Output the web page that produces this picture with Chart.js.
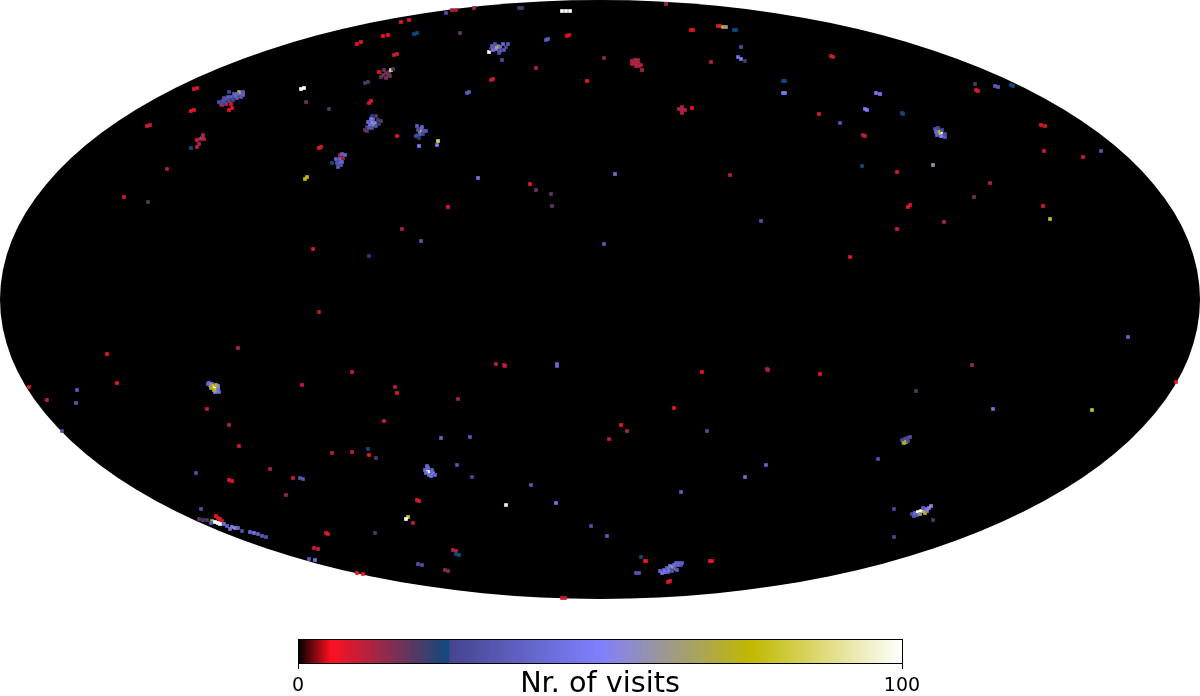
<!DOCTYPE html>
<html>
<head>
<meta charset="utf-8">
<title>Nr. of visits</title>
<script src="https://cdn.jsdelivr.net/npm/chart.js@4"></script>
<style>
    body { margin: 0; background: #fff; width: 1200px; height: 696px; overflow: hidden; position: relative; }
    canvas { position: absolute; left: 0; }
    #map { top: 0; }
    #bar { top: 620px; }
</style>
</head>
<body>
<canvas id="map" width="1200" height="600"></canvas>
<canvas id="bar" width="1200" height="82"></canvas>
<script>
// values: position on the projected sky and number of visits
var skyX = [
    383,388,357,361,394,397,194,197,191,194,229,232,147,150,167,124,148,301,304,306,329,319,321,365,368,369,371,397,305,307,
    191,197,199,197,200,202,203,204,
    219,223,226,229,231,233,235,237,240,243,239,226,231,222,229,
    379,383,386,389,391,388,393,
    365,367,370,372,375,373,378,381,376,372,369,374,
    332,340,342,345,340,343,339,342,338,
    562,566,570,666,519,522,474,452,456,446,401,409,414,417,460,567,569,546,548,
    489,491,494,496,498,500,503,504,508,497,
    502,604,536,491,493,587,467,469,
    632,635,638,632,635,638,641,636,639,642,
    679,682,682,685,682,692,691,693,718,720,723,726,734,736,741,711,738,741,745,783,785,783,785,
    615,730,761,478,530,536,551,552,448,402,
    417,421,424,420,426,418,421,416,419,437,438,
    831,833,876,880,865,867,819,840,863,865,902,903,975,976,978,995,998,1011,1013,1041,1045,1044,1083,1101,
    935,938,940,941,939,943,945,942,937,
    933,862,897,990,974,908,910,1043,1050,944,897,
    313,369,421,604,850,319,1128,
    107,117,238,77,76,29,47,62,
    209,212,213,215,217,210,216,218,215,
    207,229,239,352,302,395,397,384,332,352,368,369,376,270,293,300,303,229,232,196,286,
    326,328,314,318,375,309,315,357,363,
    201,199,203,207,216,218,220,222,212,215,218,220,211,224,227,232,235,238,230,242,250,254,258,262,266,
    496,504,505,557,557,702,767,768,458,674,621,627,609,707,441,470,457,472,
    425,428,430,433,428,431,435,
    531,556,506,681,745,766,417,419,408,406,413,591,607,453,456,456,459,418,422,445,448,641,645,646,710,712,636,639,668,670,
    660,664,667,665,670,673,677,678,681,676,674,
    562,565,820,972,916,993,1092,1176,
    903,905,907,910,906,878,894,894,933,
    912,915,918,921,924,926,929,931,917,923,
    224,228,234,237,221,225,241,243,
    492,495,500,493,499,506,
    368,371,376,367,379,372,
    418,422,419,423,
    662,668,669,675,679,682,672,
    208,211,214,218,219,
    426,429,432,427,
    914,920,925,927,
    936,941,945,938,
    902,904,908,
    336,341,337,
    381,384,390,386
];
var skyY = [
    36,35,44,42,55,54,89,88,111,110,110,108,126,125,169,197,202,89,88,102,109,148,147,83,82,103,101,136,179,177,
    148,147,144,140,139,138,135,139,
    102,101,99,101,97,100,96,98,94,95,92,104,104,105,92,
    72,75,73,72,70,76,69,
    130,127,125,122,123,119,120,121,116,116,128,125,
    163,155,154,155,159,158,163,162,167,
    11,11,11,4,8,8,8,10,10,13,22,20,34,33,33,36,35,40,39,
    52,49,46,49,46,51,44,50,44,47,
    60,58,68,80,79,81,93,92,
    61,60,60,64,63,63,65,66,66,70,
    109,107,110,110,113,108,30,30,26,26,27,27,30,30,47,62,57,59,61,81,81,93,93,
    174,175,221,178,184,190,194,206,207,229,
    126,129,131,132,131,135,134,136,146,145,141,
    56,57,93,94,109,110,114,123,135,136,113,114,84,90,91,86,87,85,86,125,126,151,157,151,
    129,131,133,132,132,136,137,130,135,
    165,166,172,183,197,207,205,206,219,222,229,
    249,256,241,244,257,312,337,
    354,383,348,390,403,387,400,431,
    383,384,386,388,391,385,385,389,392,
    409,425,446,372,385,387,393,421,453,452,449,455,458,469,478,478,479,480,481,473,495,
    533,534,548,549,533,559,560,573,574,
    509,519,520,520,516,518,519,521,521,522,523,524,523,524,526,527,528,528,529,531,532,533,534,536,537,
    364,365,366,364,366,372,369,370,399,408,425,431,439,431,438,437,465,477,
    470,468,472,473,472,476,475,
    485,503,505,492,477,465,500,501,517,519,523,526,536,550,551,554,555,564,565,570,571,557,561,561,561,561,573,573,582,581,
    571,570,568,572,566,567,570,565,565,563,565,
    598,598,374,365,391,409,410,382,
    442,439,438,437,442,459,509,537,520,
    514,513,512,511,511,509,508,506,515,508,
    98,97,94,94,104,103,97,92,
    46,44,47,50,53,47,
    122,119,126,131,124,128,
    130,127,138,134,
    573,572,570,569,563,563,571,
    384,388,390,386,392,
    473,475,470,466,
    516,514,513,511,
    132,136,134,128,
    440,443,441,
    159,165,163,
    77,70,76,78
];
var visits = [
    6,6,7,7,10,10,8,8,7,7,7,7,9,9,11,8,19,100,100,18,19,8,8,20,20,8,8,8,75,75,
    25,12,12,8,12,30,12,10,
    30,32,30,27,35,26,40,35,40,38,70,8,8,8,26,
    6,18,17,16,90,18,20,
    18,22,45,50,48,40,20,20,19,25,33,60,
    25,10,35,40,40,14,38,40,35,
    100,100,100,14,20,20,14,12,12,30,7,7,25,25,18,5,5,35,35,
    100,22,32,48,42,35,38,34,33,70,
    28,15,11,10,10,6,35,35,
    12,12,12,12,12,12,12,12,12,12,
    12,12,12,12,12,7,5,5,9,9,70,60,25,25,28,11,45,48,20,25,25,47,47,
    42,12,30,45,7,18,18,18,7,12,
    35,40,35,70,33,26,38,27,47,48,85,
    10,10,47,47,48,48,8,33,11,11,25,25,20,9,9,35,35,25,25,8,8,9,9,33,
    30,38,100,100,75,45,35,28,38,
    58,25,9,11,17,8,8,9,78,12,9,
    8,25,33,33,7,11,40,
    7,7,12,35,33,8,10,30,
    45,45,78,100,78,60,72,45,50,
    10,12,9,10,10,12,8,11,12,10,25,7,19,12,9,33,33,7,7,30,14,
    8,8,10,10,20,35,45,8,6,
    30,20,20,20,6,10,7,10,72,100,100,100,35,42,38,50,55,40,45,30,40,45,38,35,33,
    11,10,10,40,40,7,12,12,13,7,7,12,10,28,38,33,33,26,
    42,42,43,45,100,44,40,
    33,45,95,35,42,38,6,8,78,100,11,30,35,11,11,25,25,30,30,16,16,25,7,7,7,7,33,33,7,7,
    40,42,38,45,48,65,35,40,33,38,42,
    10,10,7,14,20,44,78,7,
    30,28,26,30,72,30,27,27,20,
    28,42,100,100,76,42,50,56,35,35,
    30,34,36,40,28,26,33,36,
    36,30,44,44,30,28,
    40,46,30,19,22,30,
    30,38,25,26,
    45,40,44,35,38,35,32,
    40,70,75,60,42,
    42,42,38,40,
    35,60,75,50,
    40,50,30,28,
    26,70,28,
    38,30,32,
    18,18,18,16
];

// colour bar
var barLabel = 'Nr. of visits';
var barTicks = [0, 100];
var stopValues = [0, 5.5, 25, 25.1, 50, 75, 100];
var stopColors = ['#000000', '#ff1020', '#0f4a80', '#45458f', '#8080ff', '#c0b800', '#ffffff'];

function hexToRgb(h) {
    return [parseInt(h.substr(1, 2), 16), parseInt(h.substr(3, 2), 16), parseInt(h.substr(5, 2), 16)];
}

function visitColor(v) {
    for (var i = 1; i < stopValues.length; i++) {
        if (v <= stopValues[i]) {
            var t = (v - stopValues[i - 1]) / (stopValues[i] - stopValues[i - 1]);
            var a = hexToRgb(stopColors[i - 1]);
            var b = hexToRgb(stopColors[i]);
            return 'rgb(' + a.map(function (c, k) { return Math.round(c + (b[k] - c) * t); }).join(',') + ')';
        }
    }
    return stopColors[stopColors.length - 1];
}

// black sky ellipse, sized from the map scales
var skyFrame = {
    id: 'skyFrame',
    beforeDatasetsDraw: function (chart) {
        var sx = chart.scales.x, sy = chart.scales.y, ctx = chart.ctx;
        ctx.save();
        ctx.fillStyle = '#000';
        ctx.beginPath();
        ctx.ellipse(sx.getPixelForValue(600), sy.getPixelForValue(299.5),
            sx.getPixelForValue(1200) - sx.getPixelForValue(600),
            sy.getPixelForValue(599) - sy.getPixelForValue(299.5), 0, 0, Math.PI * 2);
        ctx.fill();
        ctx.restore();
    }
};

new Chart(document.getElementById('map'), {
    type: 'scatter',
    data: {
        datasets: [{
            data: skyX.map(function (x, i) { return { x: x, y: skyY[i] }; }),
            pointStyle: 'rect',
            pointRadius: 2.6,
            borderWidth: 0,
            backgroundColor: function (c) { return visitColor(visits[c.dataIndex]); }
        }]
    },
    options: {
        responsive: false,
        animation: false,
        layout: { padding: 0, autoPadding: false },
        plugins: { legend: { display: false }, tooltip: { enabled: false } },
        scales: {
            x: { type: 'linear', display: false, min: 0, max: 1200 },
            y: { type: 'linear', display: false, min: 0, max: 600, reverse: true }
        }
    },
    plugins: [skyFrame]
});

new Chart(document.getElementById('bar'), {
    type: 'bar',
    data: {
        labels: [barLabel],
        datasets: [{
            data: [[barTicks[0], barTicks[1]]],
            barPercentage: 1,
            categoryPercentage: 1,
            borderWidth: 0,
            backgroundColor: function (c) {
                var area = c.chart.chartArea;
                if (!area) return '#000';
                var g = c.chart.ctx.createLinearGradient(area.left, 0, area.right, 0);
                stopValues.forEach(function (v, i) { g.addColorStop(v / 100, stopColors[i]); });
                return g;
            }
        }]
    },
    options: {
        indexAxis: 'y',
        responsive: false,
        animation: false,
        layout: { padding: { left: 298, right: 298, top: 19, bottom: 0 } },
        plugins: { legend: { display: false }, tooltip: { enabled: false } },
        scales: {
            y: { display: false },
            x: {
                type: 'linear',
                min: barTicks[0],
                max: barTicks[1],
                afterFit: function (s) { s.height = 39; },
                grid: { drawOnChartArea: false, drawTicks: true, tickLength: 6, color: '#000', lineWidth: 1 },
                border: { display: true, color: '#000', width: 1 },
                ticks: {
                    stepSize: 100, maxRotation: 0, padding: 6, color: '#000',
                    font: { family: 'DejaVu Sans', size: 19 }
                },
                title: {
                    display: true, text: barLabel, color: '#000',
                    font: { family: 'DejaVu Sans', size: 28.7 }, padding: 0
                }
            }
        }
    },
    plugins: [{
        // thin box round the colour bar, from the scale ends
        id: 'barBox',
        afterDatasetsDraw: function (chart) {
            var a = chart.chartArea, ctx = chart.ctx;
            ctx.save();
            ctx.strokeStyle = '#000';
            ctx.lineWidth = 1;
            ctx.strokeRect(a.left + 0.5, a.top + 0.5, a.right - a.left, a.bottom - a.top);
            ctx.restore();
        }
    }]
});
</script>
</body>
</html>
